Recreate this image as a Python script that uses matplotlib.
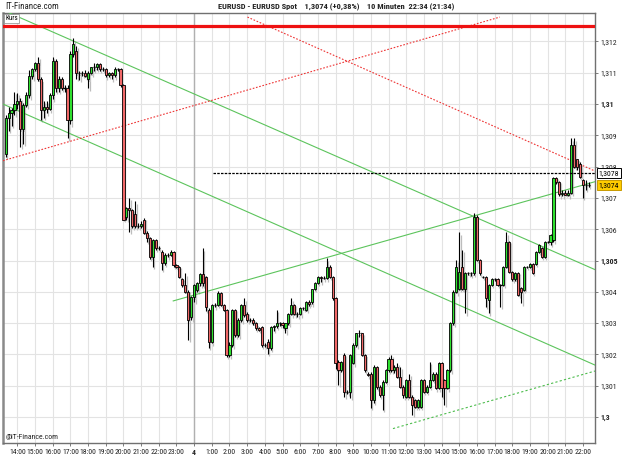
import matplotlib.pyplot as plt
from matplotlib.transforms import blended_transform_factory
from matplotlib import font_manager

# EUR/USD 10-minute bars, first bar 13:20 (day 3), last bar 22:30 (day 4)
opens = [
    1.30840, 1.30957, 1.30970, 1.30981, 1.31000, 1.31011, 1.30919, 1.30997, 1.31029, 1.31089,
    1.31111, 1.31130, 1.31079, 1.30981, 1.30990, 1.30985, 1.31029, 1.31138, 1.31050, 1.31079,
    1.31050, 1.31050, 1.30949, 1.31160, 1.31170, 1.31098, 1.31098, 1.31098, 1.31079, 1.31098,
    1.31117, 1.31117, 1.31128, 1.31111, 1.31111, 1.31093, 1.31098, 1.31093, 1.31111, 1.31111,
    1.31061, 1.30640, 1.30667, 1.30662, 1.30650, 1.30610, 1.30610, 1.30629, 1.30589, 1.30571,
    1.30510, 1.30565, 1.30540, 1.30528, 1.30491, 1.30518, 1.30518, 1.30528, 1.30486, 1.30478,
    1.30440, 1.30422, 1.30401, 1.30320, 1.30382, 1.30406,
    1.30427, 1.30457, 1.30448, 1.30342, 1.30240, 1.30358, 1.30358, 1.30397, 1.30358, 1.30342,
    1.30198, 1.30230, 1.30342, 1.30262, 1.30310, 1.30358, 1.30329, 1.30310, 1.30310, 1.30299,
    1.30283, 1.30288, 1.30230, 1.30241, 1.30220, 1.30288, 1.30290, 1.30299, 1.30299, 1.30283,
    1.30299, 1.30329, 1.30358, 1.30329, 1.30329, 1.30347, 1.30342, 1.30368, 1.30368, 1.30408,
    1.30429, 1.30448, 1.30445, 1.30445, 1.30480, 1.30448,
    1.30379, 1.30177, 1.30150, 1.30198, 1.30081, 1.30081, 1.30172, 1.30230, 1.30267, 1.30267,
    1.30198, 1.30139, 1.30139, 1.30054, 1.30159, 1.30097, 1.30070, 1.30113, 1.30150, 1.30187,
    1.30150, 1.30161, 1.30129, 1.30097, 1.30065, 1.30118, 1.30065, 1.30054, 1.30033, 1.30033,
    1.30118, 1.30081, 1.30097, 1.30118, 1.30139, 1.30092, 1.30172, 1.30118, 1.30092,
    1.30150, 1.30299, 1.30400, 1.30410, 1.30480, 1.30408, 1.30459, 1.30459, 1.30459, 1.30640,
    1.30502, 1.30448, 1.30448, 1.30374, 1.30422, 1.30440, 1.30440, 1.30422, 1.30422, 1.30480,
    1.30560, 1.30464, 1.30440, 1.30459, 1.30411, 1.30406, 1.30480, 1.30480, 1.30489, 1.30489,
    1.30528, 1.30539, 1.30512, 1.30560, 1.30560, 1.30565, 1.30763, 1.30752, 1.30714, 1.30717,
    1.30710, 1.30717, 1.30869, 1.30826, 1.30810, 1.30757, 1.30741, 1.30741,
]
highs = [
    1.30965, 1.30990, 1.30988, 1.31040, 1.31035, 1.31020, 1.31005, 1.31040, 1.31109, 1.31115,
    1.31135, 1.31151, 1.31085, 1.31010, 1.31010, 1.31035, 1.31151, 1.31145, 1.31090, 1.31085,
    1.31060, 1.31060, 1.31170, 1.31210, 1.31185, 1.31105, 1.31105, 1.31108, 1.31105, 1.31120,
    1.31130, 1.31132, 1.31132, 1.31118, 1.31115, 1.31102, 1.31102, 1.31118, 1.31115, 1.31115,
    1.31065, 1.30670, 1.30700, 1.30665, 1.30689, 1.30620, 1.30625, 1.30635, 1.30595, 1.30575,
    1.30570, 1.30570, 1.30545, 1.30535, 1.30525, 1.30523, 1.30535, 1.30532, 1.30490, 1.30482,
    1.30445, 1.30459, 1.30405, 1.30388, 1.30425, 1.30430,
    1.30460, 1.30539, 1.30452, 1.30348, 1.30362, 1.30365, 1.30402, 1.30400, 1.30362, 1.30346,
    1.30240, 1.30345, 1.30346, 1.30315, 1.30362, 1.30379, 1.30335, 1.30315, 1.30315, 1.30305,
    1.30288, 1.30292, 1.30235, 1.30250, 1.30290, 1.30295, 1.30342, 1.30305, 1.30305, 1.30302,
    1.30332, 1.30379, 1.30362, 1.30334, 1.30350, 1.30352, 1.30372, 1.30375, 1.30410, 1.30432,
    1.30450, 1.30452, 1.30450, 1.30507, 1.30485, 1.30452,
    1.30382, 1.30183, 1.30180, 1.30203, 1.30086, 1.30202, 1.30235, 1.30270, 1.30278, 1.30270,
    1.30202, 1.30145, 1.30143, 1.30165, 1.30163, 1.30102, 1.30118, 1.30155, 1.30192, 1.30198,
    1.30165, 1.30172, 1.30160, 1.30102, 1.30122, 1.30139, 1.30070, 1.30058, 1.30058, 1.30122,
    1.30122, 1.30102, 1.30177, 1.30143, 1.30143, 1.30177, 1.30175, 1.30122, 1.30155,
    1.30305, 1.30405, 1.30502, 1.30590, 1.30534, 1.30462, 1.30463, 1.30465, 1.30651, 1.30645,
    1.30506, 1.30452, 1.30452, 1.30426, 1.30444, 1.30444, 1.30444, 1.30426, 1.30484, 1.30590,
    1.30564, 1.30468, 1.30463, 1.30463, 1.30415, 1.30484, 1.30484, 1.30493, 1.30493, 1.30532,
    1.30554, 1.30543, 1.30564, 1.30564, 1.30585, 1.30768, 1.30768, 1.30755, 1.30725, 1.30725,
    1.30725, 1.30890, 1.30890, 1.30826, 1.30815, 1.30760, 1.30757, 1.30752,
]
lows = [
    1.30832, 1.30915, 1.30930, 1.30965, 1.30985, 1.30862, 1.30874, 1.30990, 1.31020, 1.31080,
    1.31105, 1.31075, 1.30949, 1.30955, 1.30970, 1.30980, 1.31015, 1.31040, 1.31040, 1.31045,
    1.31040, 1.30890, 1.30935, 1.31150, 1.31080, 1.31077, 1.31090, 1.31085, 1.31050, 1.31095,
    1.31105, 1.31110, 1.31105, 1.31105, 1.31085, 1.31088, 1.31079, 1.31085, 1.31105, 1.31055,
    1.30629, 1.30629, 1.30592, 1.30605, 1.30605, 1.30605, 1.30605, 1.30585, 1.30560, 1.30505,
    1.30480, 1.30535, 1.30535, 1.30470, 1.30485, 1.30510, 1.30515, 1.30480, 1.30475, 1.30445,
    1.30415, 1.30395, 1.30246, 1.30310, 1.30368, 1.30400,
    1.30420, 1.30420, 1.30340, 1.30220, 1.30235, 1.30350, 1.30355, 1.30355, 1.30338, 1.30191,
    1.30191, 1.30225, 1.30255, 1.30255, 1.30305, 1.30320, 1.30305, 1.30305, 1.30295, 1.30278,
    1.30275, 1.30225, 1.30225, 1.30201, 1.30215, 1.30275, 1.30285, 1.30290, 1.30285, 1.30270,
    1.30295, 1.30325, 1.30325, 1.30320, 1.30325, 1.30342, 1.30338, 1.30355, 1.30360, 1.30405,
    1.30425, 1.30430, 1.30440, 1.30440, 1.30445, 1.30375,
    1.30155, 1.30102, 1.30145, 1.30065, 1.30075, 1.30060, 1.30168, 1.30225, 1.30255, 1.30195,
    1.30145, 1.30130, 1.30028, 1.30045, 1.30090, 1.30065, 1.30023, 1.30108, 1.30145, 1.30145,
    1.30142, 1.30125, 1.30093, 1.30060, 1.30060, 1.30060, 1.30006, 1.30028, 1.30030, 1.30030,
    1.30076, 1.30078, 1.30093, 1.30115, 1.30088, 1.30088, 1.30065, 1.30038, 1.30088,
    1.30145, 1.30295, 1.30395, 1.30405, 1.30405, 1.30331, 1.30455, 1.30450, 1.30455, 1.30500,
    1.30455, 1.30444, 1.30352, 1.30331, 1.30418, 1.30436, 1.30418, 1.30352, 1.30418, 1.30475,
    1.30460, 1.30436, 1.30436, 1.30386, 1.30363, 1.30402, 1.30476, 1.30476, 1.30457, 1.30485,
    1.30524, 1.30508, 1.30508, 1.30556, 1.30550, 1.30560, 1.30745, 1.30705, 1.30705, 1.30709,
    1.30705, 1.30714, 1.30795, 1.30790, 1.30765, 1.30699, 1.30725, 1.30735,
]
closes = [
    1.30957, 1.30970, 1.30981, 1.31000, 1.31011, 1.30919, 1.30997, 1.31029, 1.31089, 1.31111,
    1.31130, 1.31079, 1.30981, 1.30990, 1.30985, 1.31029, 1.31138, 1.31050, 1.31079, 1.31050,
    1.31050, 1.30949, 1.31160, 1.31192, 1.31098, 1.31098, 1.31098, 1.31089, 1.31098, 1.31117,
    1.31117, 1.31128, 1.31111, 1.31111, 1.31093, 1.31098, 1.31093, 1.31111, 1.31111, 1.31061,
    1.30629, 1.30667, 1.30662, 1.30610, 1.30610, 1.30610, 1.30618, 1.30589, 1.30571, 1.30510,
    1.30565, 1.30540, 1.30540, 1.30491, 1.30518, 1.30518, 1.30528, 1.30486, 1.30478, 1.30448,
    1.30422, 1.30401, 1.30310, 1.30382, 1.30422, 1.30427,
    1.30457, 1.30427, 1.30352, 1.30240, 1.30358, 1.30358, 1.30397, 1.30358, 1.30342, 1.30198,
    1.30230, 1.30342, 1.30262, 1.30310, 1.30358, 1.30326, 1.30310, 1.30310, 1.30299, 1.30283,
    1.30278, 1.30230, 1.30230, 1.30220, 1.30288, 1.30290, 1.30299, 1.30299, 1.30294, 1.30299,
    1.30329, 1.30358, 1.30329, 1.30329, 1.30347, 1.30347, 1.30368, 1.30360, 1.30408, 1.30429,
    1.30448, 1.30445, 1.30445, 1.30480, 1.30448, 1.30379,
    1.30172, 1.30150, 1.30177, 1.30081, 1.30081, 1.30198, 1.30230, 1.30267, 1.30270, 1.30198,
    1.30150, 1.30134, 1.30054, 1.30159, 1.30097, 1.30070, 1.30113, 1.30150, 1.30187, 1.30150,
    1.30161, 1.30129, 1.30097, 1.30070, 1.30118, 1.30065, 1.30038, 1.30033, 1.30054, 1.30118,
    1.30081, 1.30097, 1.30118, 1.30139, 1.30092, 1.30172, 1.30092, 1.30092, 1.30150,
    1.30299, 1.30400, 1.30480, 1.30464, 1.30408, 1.30459, 1.30459, 1.30459, 1.30640, 1.30502,
    1.30459, 1.30448, 1.30379, 1.30422, 1.30440, 1.30440, 1.30422, 1.30422, 1.30480, 1.30560,
    1.30464, 1.30440, 1.30459, 1.30390, 1.30400, 1.30480, 1.30480, 1.30489, 1.30461, 1.30528,
    1.30550, 1.30512, 1.30560, 1.30560, 1.30581, 1.30763, 1.30752, 1.30714, 1.30717, 1.30710,
    1.30717, 1.30869, 1.30800, 1.30800, 1.30768, 1.30741, 1.30741, 1.30740,
]

hour_labels = ['14:00', '15:00', '16:00', '17:00', '18:00', '19:00', '20:00', '21:00',
               '22:00', '23:00', '4', '1:00', '2:00', '3:00', '4:00', '5:00', '6:00',
               '7:00', '8:00', '9:00', '10:00', '11:00', '12:00', '13:00', '14:00',
               '15:00', '16:00', '17:00', '18:00', '19:00', '20:00', '21:00', '22:00']
first_hour_bar = 4   # 14:00 is the fifth 10-minute bar
bars_per_hour = 6

price_ticks = [1.300, 1.301, 1.302, 1.303, 1.304, 1.305, 1.306,
               1.307, 1.308, 1.309, 1.310, 1.311, 1.312]
price_labels = ['1,3', '1,301', '1,302', '1,303', '1,304', '1,305', '1,306',
                '1,307', '1,308', '1,309', '1,31', '1,311', '1,312']
bold_labels = ['1,3', '1,305', '1,31']

# drawn lines: (bar positions, prices) of both ends
green_upper = ([-0.9, 200.1], [1.31300, 1.30471])
green_lower = ([-0.9, 200.1], [1.31000, 1.30166])
green_rising = ([56.9, 200.1], [1.30371, 1.30752])
green_dotted = ([131.5, 200.1], [1.29963, 1.30147])
red_rising = ([-0.9, 167.8], [1.30819, 1.31278])
red_falling = ([82.1, 200.1], [1.31278, 1.30786])
resistance = 1.3125
marker_level = 1.3078
marker_start = 70.4
last_price = 1.3074

# narrow face for the small axis texts, if there is one
names = {f.name for f in font_manager.fontManager.ttflist}
narrow = [n for n in ['Liberation Sans Narrow', 'DejaVu Sans Condensed', 'Roboto Condensed']
          if n in names]
small_font = narrow + ['Liberation Sans', 'DejaVu Sans']
plt.rcParams['font.family'] = ['Liberation Sans', 'DejaVu Sans']
tick_size = 5.6 if narrow else 5.0

fig = plt.figure(figsize=(6.25, 4.55), dpi=100)
fig.patch.set_facecolor('white')
ax = fig.add_axes([3 / 625, 12 / 455, 592 / 625, 430 / 455])
ax.set_xlim(-0.9, 200.1)
ax.set_ylim(1.29917, 1.31291)

up_col = '#2fe02f'
down_col = '#f06868'
width = 0.72
sx, sy = 0.5, -0.00007  # grey drop shadow offset

for i in range(len(closes)):
    o, h, l, c = opens[i], highs[i], lows[i], closes[i]
    lo, hi = min(o, c), max(o, c)
    ax.vlines(i + sx, l + sy, h + sy, color='#bdbdbd', lw=0.9, zorder=2)
    ax.bar(i + sx, max(hi - lo, 0.000012), width, lo + sy, color='#c8c8c8', lw=0, zorder=2)
    ax.vlines(i, l, h, color='black', lw=0.8, zorder=4)
    if hi - lo < 0.000015:
        ax.hlines(c, i - width / 2, i + width / 2, color='black', lw=1.0, zorder=5)
    else:
        ax.bar(i, hi - lo, width, lo, color=up_col if c > o else down_col,
               edgecolor='black', lw=0.6, zorder=5)

# trend lines
ax.plot(*green_upper, color='#5cc45c', lw=0.8, zorder=3)
ax.plot(*green_lower, color='#5cc45c', lw=0.8, zorder=3)
ax.plot(*green_rising, color='#5cc45c', lw=0.8, zorder=3)
ax.plot(*green_dotted, color='#4cbc4c', lw=0.8, ls=(0, (2, 2)), zorder=3)
ax.plot(*red_rising, color='#ee3333', lw=0.8, ls=(0, (1.5, 1.5)), zorder=3)
ax.plot(*red_falling, color='#ee3333', lw=0.8, ls=(0, (1.5, 1.5)), zorder=3)
ax.axhline(resistance, color='#ee1111', lw=2.3, zorder=6)
ax.hlines(marker_level, marker_start, 200.1, color='black', lw=0.9,
          linestyles=(0, (2, 1)), zorder=6)

# grid and ticks
hour_pos = [first_hour_bar + bars_per_hour * k for k in range(len(hour_labels))]
ax.set_xticks(hour_pos)
ax.set_xticklabels(hour_labels, fontsize=tick_size, color='#222222', family=small_font)
for lab in ax.get_xticklabels():
    if lab.get_text() == '4':
        lab.set_fontweight('bold')
ax.axvline(hour_pos[hour_labels.index('4')], color='#b0b0b0', lw=1.0, zorder=1)

ax.yaxis.tick_right()
ax.set_yticks(price_ticks)
ax.set_yticklabels(price_labels, fontsize=tick_size, color='#222222', family=small_font)
for lab in ax.get_yticklabels():
    if lab.get_text() in bold_labels:
        lab.set_fontweight('bold')
ax.tick_params(axis='both', length=2.5, width=0.6, color='#666666', pad=1.5)
ax.grid(True, color='#e3e3e3', lw=0.8, zorder=0)
ax.set_axisbelow(True)

for side, sp in ax.spines.items():
    sp.set_color('#707070')
    sp.set_linewidth(1.0)
ax.spines['left'].set_linewidth(1.8)
ax.spines['left'].set_color('#8a8a8a')

# price boxes on the right (they cover most of the 1,308 label, as on the original)
trans = blended_transform_factory(ax.transAxes, ax.transData)
ax.text(1.006, marker_level, '1,3078', transform=trans, fontsize=tick_size, va='center',
        ha='left', clip_on=False, zorder=10, family=small_font,
        bbox=dict(boxstyle='square,pad=0.25', fc='white', ec='black', lw=0.7))
ax.text(1.006, last_price, '1,3074', transform=trans, fontsize=tick_size, va='center',
        ha='left', clip_on=False, zorder=10, family=small_font,
        bbox=dict(boxstyle='square,pad=0.25', fc='#ffcc00', ec='#c89a00', lw=0.7))

# labels
ax.text(0.004, 0.996, 'Kurs', transform=ax.transAxes, fontsize=5, va='top', ha='left',
        zorder=10, family=small_font,
        bbox=dict(boxstyle='square,pad=0.15', fc='white', ec='#888888', lw=0.5))
ax.text(0.004, 0.006, '@IT-Finance.com', transform=ax.transAxes, fontsize=tick_size,
        va='bottom', ha='left', color='#222222', zorder=10, family=small_font)
fig.text(0.008, 0.995, 'IT-Finance.com', fontsize=tick_size + 0.8, va='top', ha='left',
         color='#222222', family=small_font)
fig.text(0.538, 0.995, 'EURUSD - EURUSD Spot    1,3074 (+0,38%)    10 Minuten  22:34 (21:34)',
         fontsize=tick_size + 0.4, fontweight='bold', va='top', ha='center', color='#222222',
         family=small_font)

fig.savefig('out.png', dpi=100)
